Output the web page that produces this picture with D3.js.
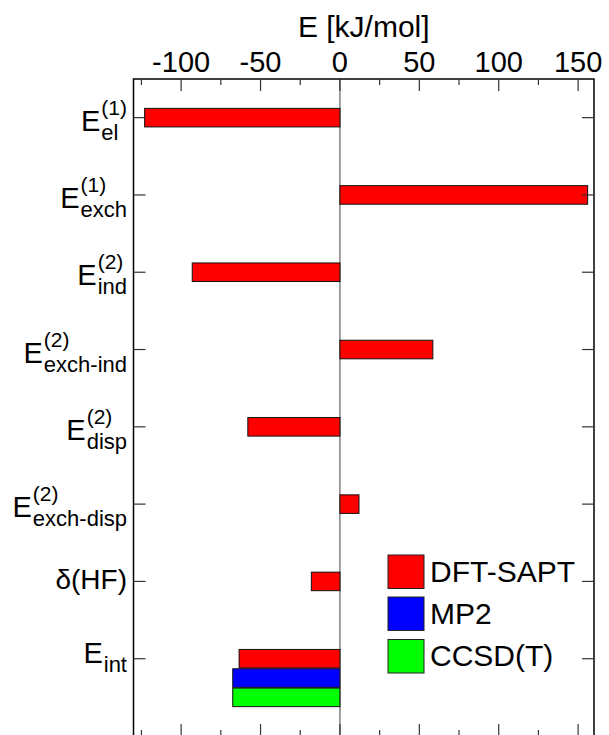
<!DOCTYPE html>
<html>
<head>
<meta charset="utf-8">
<script src="https://cdn.jsdelivr.net/npm/d3@7"></script>
<style>
  body { margin: 0; background: #fff; }
  text { font-family: "Liberation Sans", Arial, sans-serif; fill: #000; }
</style>
</head>
<body>
<svg id="chart" width="609" height="735"></svg>
<script>
// energy components (rows, top to bottom)
var labelMain = ["E", "E", "E", "E", "E", "E", "\u03b4(HF)", "E"];
var labelSup  = ["(1)", "(1)", "(2)", "(2)", "(2)", "(2)", "", ""];
var labelSub  = ["el", "exch", "ind", "exch-ind", "disp", "exch-disp", "", "int"];

// series values in kJ/mol (null = no bar)
var seriesNames = ["DFT-SAPT", "MP2", "CCSD(T)"];
var dftSapt = [-123, 156, -93, 58.5, -58, 12, -18, -63.5];
var mp2     = [null, null, null, null, null, null, null, -67.5];
var ccsdt   = [null, null, null, null, null, null, null, -67.5];
var seriesColors = ["#ff0000", "#0000ff", "#00ff00"];

var majorTicks = [-100, -50, 0, 50, 100, 150];
var minorTicks = [-125, -75, -25, 25, 75, 125];

var svg = d3.select("#chart");

// plot frame (note: "top" is a reserved window prop, so use plot* names)
var plotLeft = 133.5, plotRight = 594, plotTop = 79, plotBottom = 736;

var x = d3.scaleLinear().domain([-130, 160]).range([plotLeft, plotRight]);
var y = d3.scaleLinear().domain([-0.5, 8]).range([plotTop, plotBottom]);

var barH = y(0.24) - y(0);
var barStep = y(0.25) - y(0);

// zero line
svg.append("line")
    .attr("x1", x(0)).attr("x2", x(0))
    .attr("y1", plotTop).attr("y2", plotBottom)
    .attr("stroke", "#808080").attr("stroke-width", 1.5);

// bars
var allSeries = [dftSapt, mp2, ccsdt];
allSeries.forEach(function(vals, s) {
    vals.forEach(function(v, i) {
        if (v === null) return;
        svg.append("rect")
            .attr("x", x(Math.min(0, v)))
            .attr("y", y(i) - barH / 2 + s * barStep)
            .attr("width", Math.abs(x(v) - x(0)))
            .attr("height", barH)
            .attr("fill", seriesColors[s])
            .attr("stroke", "#111")
            .attr("stroke-width", 1);
    });
});

// frame
svg.append("rect")
    .attr("x", plotLeft).attr("y", plotTop)
    .attr("width", plotRight - plotLeft).attr("height", plotBottom - plotTop)
    .attr("fill", "none").attr("stroke", "#000").attr("stroke-width", 1.5);

// ticks on top and bottom (inward)
var tickG = svg.append("g").attr("stroke", "#333").attr("stroke-width", 1.2);
majorTicks.concat(minorTicks).forEach(function(t) {
    var len = majorTicks.indexOf(t) >= 0 ? 12 : 6;
    tickG.append("line").attr("x1", x(t)).attr("x2", x(t)).attr("y1", plotTop).attr("y2", plotTop + len);
    tickG.append("line").attr("x1", x(t)).attr("x2", x(t)).attr("y1", plotBottom).attr("y2", plotBottom - len);
});
// ticks on left and right at each row
labelMain.forEach(function(d, i) {
    tickG.append("line").attr("x1", plotLeft).attr("x2", plotLeft + 12).attr("y1", y(i)).attr("y2", y(i));
    tickG.append("line").attr("x1", plotRight).attr("x2", plotRight - 12).attr("y1", y(i)).attr("y2", y(i));
});

// tick labels
svg.selectAll(".xlab").data(majorTicks).enter().append("text")
    .attr("class", "xlab")
    .attr("x", function(d) { return x(d); })
    .attr("y", 72)
    .attr("text-anchor", "middle")
    .style("font-size", "29px")
    .text(function(d) { return d; });

// axis title
svg.append("text")
    .attr("x", (plotLeft + plotRight) / 2)
    .attr("y", 37)
    .attr("text-anchor", "middle")
    .style("font-size", "30px")
    .text("E [kJ/mol]");

// row labels with super/subscripts
labelMain.forEach(function(m, i) {
    var g = svg.append("g");
    var base = labelSup[i] ? 13 : (labelSub[i] ? 4 : 8);
    var main = g.append("text").attr("x", 0).attr("y", 0)
        .style("font-size", labelSub[i] ? "29px" : "28px").text(m);
    var wMain = main.node().getComputedTextLength();
    var wExtra = 0;
    if (labelSup[i]) {
        var sp = g.append("text").attr("x", wMain + 1).attr("y", -16).style("font-size", "21px").text(labelSup[i]);
        wExtra = Math.max(wExtra, sp.node().getComputedTextLength() + 1);
    }
    if (labelSub[i]) {
        var sb = g.append("text").attr("x", wMain + 1).attr("y", 9).style("font-size", "22px").text(labelSub[i]);
        wExtra = Math.max(wExtra, sb.node().getComputedTextLength() + 1);
    }
    g.attr("transform", "translate(" + (127 - wMain - wExtra) + "," + (y(i) + base) + ")");
});

// legend
var legY = [555, 597, 639.5];
seriesNames.forEach(function(name, s) {
    svg.append("rect")
        .attr("x", 388).attr("y", legY[s])
        .attr("width", 36).attr("height", 33.5)
        .attr("fill", seriesColors[s])
        .attr("stroke", "#222").attr("stroke-width", 1);
    svg.append("text")
        .attr("x", 430).attr("y", legY[s] + 16.75 + 10)
        .style("font-size", "30px")
        .text(name);
});
</script>
</body>
</html>
